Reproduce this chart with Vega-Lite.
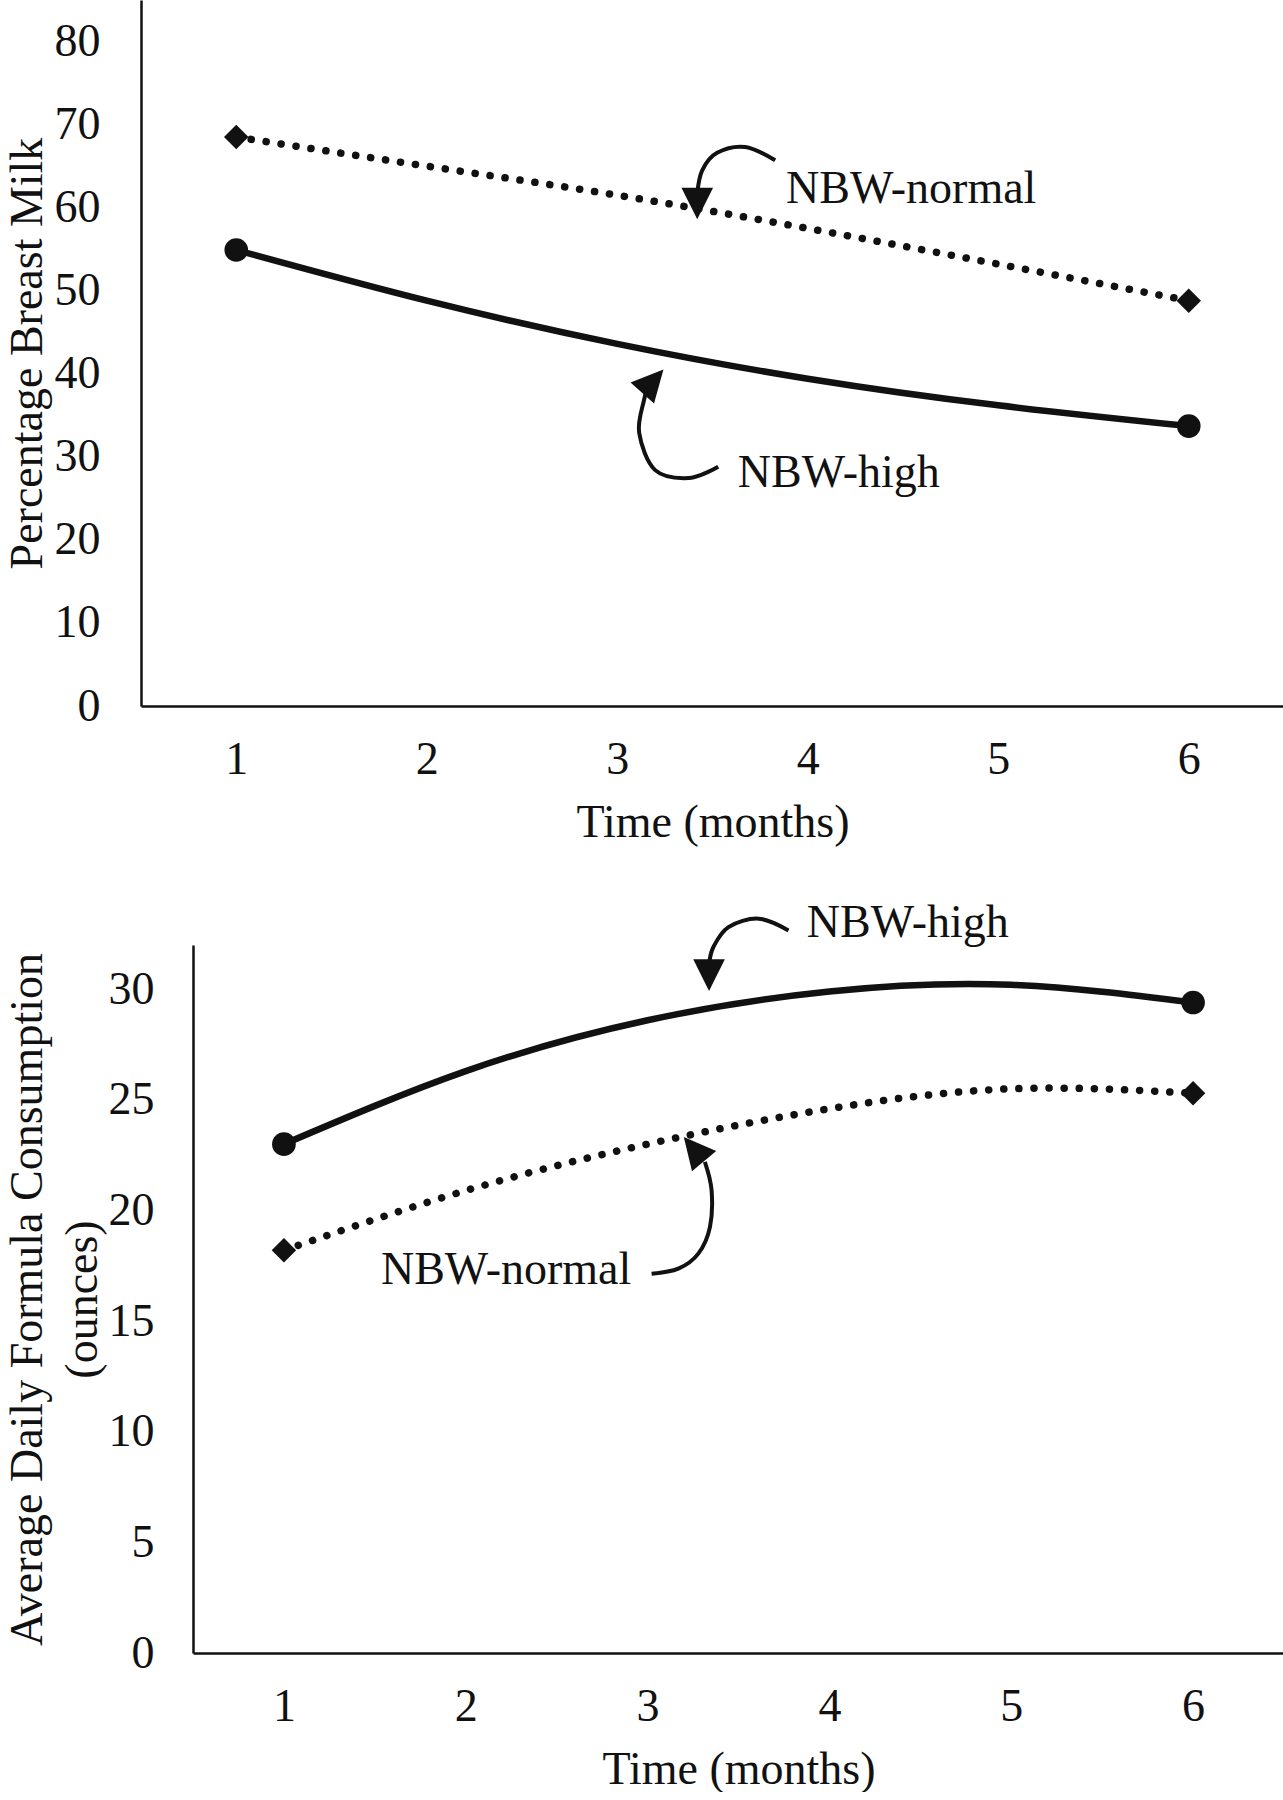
{
  "$schema": "https://vega.github.io/schema/vega-lite/v6.json",
  "padding": {"left": 4, "top": 0, "right": 0, "bottom": 0},
  "background": "white",
  "spacing": 54,
  "config": {
    "view": {"stroke": null},
    "font": "Liberation Serif",
    "axis": {
      "grid": false, "ticks": false, "domainColor": "#111", "domainWidth": 2.5,
      "labelFont": "Liberation Serif", "labelFontSize": 46, "labelColor": "#111",
      "titleFont": "Liberation Serif", "titleFontSize": 46, "titleFontWeight": "normal", "titleColor": "#111",
      "labelFlush": false, "labelOverlap": false
    }
  },
  "datasets": {
    "bm": [
      {"series": "NBW-high", "month": 1, "value": 54.9},
      {"series": "NBW-high", "month": 2, "value": 48.8},
      {"series": "NBW-high", "month": 3, "value": 43.6},
      {"series": "NBW-high", "month": 4, "value": 39.4},
      {"series": "NBW-high", "month": 5, "value": 36.2},
      {"series": "NBW-high", "month": 6, "value": 33.7},
      {"series": "NBW-normal", "month": 1, "value": 68.5},
      {"series": "NBW-normal", "month": 2, "value": 65.0},
      {"series": "NBW-normal", "month": 3, "value": 61.5},
      {"series": "NBW-normal", "month": 4, "value": 57.5},
      {"series": "NBW-normal", "month": 5, "value": 53.2},
      {"series": "NBW-normal", "month": 6, "value": 48.8}
    ],
    "fc": [
      {"series": "NBW-high", "month": 1, "value": 23.0},
      {"series": "NBW-high", "month": 2, "value": 26.3},
      {"series": "NBW-high", "month": 3, "value": 28.6},
      {"series": "NBW-high", "month": 4, "value": 29.9},
      {"series": "NBW-high", "month": 5, "value": 30.2},
      {"series": "NBW-high", "month": 6, "value": 29.4},
      {"series": "NBW-normal", "month": 1, "value": 18.2},
      {"series": "NBW-normal", "month": 2, "value": 20.9},
      {"series": "NBW-normal", "month": 3, "value": 23.0},
      {"series": "NBW-normal", "month": 4, "value": 24.6},
      {"series": "NBW-normal", "month": 5, "value": 25.5},
      {"series": "NBW-normal", "month": 6, "value": 25.3}
    ],
    "arrows": [
      {"panel": "top", "arrow": "normal", "step": 1, "month": 3.829, "value": 65.7},
      {"panel": "top", "arrow": "normal", "step": 2, "month": 3.672, "value": 67.3},
      {"panel": "top", "arrow": "normal", "step": 3, "month": 3.524, "value": 66.6},
      {"panel": "top", "arrow": "normal", "step": 4, "month": 3.446, "value": 64.5},
      {"panel": "top", "arrow": "normal", "step": 5, "month": 3.42, "value": 61.7},
      {"panel": "top", "arrow": "high", "step": 1, "month": 3.53, "value": 28.8},
      {"panel": "top", "arrow": "high", "step": 2, "month": 3.378, "value": 27.45},
      {"panel": "top", "arrow": "high", "step": 3, "month": 3.199, "value": 28.4},
      {"panel": "top", "arrow": "high", "step": 4, "month": 3.115, "value": 32.9},
      {"panel": "top", "arrow": "high", "step": 5, "month": 3.141, "value": 36.9},
      {"panel": "top", "arrow": "high", "step": 6, "month": 3.16, "value": 38.4},
      {"panel": "bottom", "arrow": "high", "step": 1, "month": 3.775, "value": 32.66},
      {"panel": "bottom", "arrow": "high", "step": 2, "month": 3.61, "value": 33.19},
      {"panel": "bottom", "arrow": "high", "step": 3, "month": 3.445, "value": 32.81},
      {"panel": "bottom", "arrow": "high", "step": 4, "month": 3.362, "value": 31.91},
      {"panel": "bottom", "arrow": "high", "step": 5, "month": 3.338, "value": 31.1},
      {"panel": "bottom", "arrow": "normal", "step": 1, "month": 3.022, "value": 17.14},
      {"panel": "bottom", "arrow": "normal", "step": 2, "month": 3.169, "value": 17.37},
      {"panel": "bottom", "arrow": "normal", "step": 3, "month": 3.279, "value": 18.05},
      {"panel": "bottom", "arrow": "normal", "step": 4, "month": 3.343, "value": 19.25},
      {"panel": "bottom", "arrow": "normal", "step": 5, "month": 3.352, "value": 20.91},
      {"panel": "bottom", "arrow": "normal", "step": 6, "month": 3.315, "value": 22.2}
    ],
    "heads": [
      {"panel": "top", "arrow": "normal", "month": 3.42, "value": 60.5},
      {"panel": "top", "arrow": "high", "month": 3.187, "value": 39.1},
      {"panel": "bottom", "arrow": "high", "month": 3.338, "value": 30.64},
      {"panel": "bottom", "arrow": "normal", "month": 3.255, "value": 22.78}
    ],
    "labels": [
      {"panel": "top", "label": "NBW-normal", "month": 4.543, "value": 62.2},
      {"panel": "top", "label": "NBW-high", "month": 4.163, "value": 28.1},
      {"panel": "bottom", "label": "NBW-high", "month": 4.431, "value": 33.0},
      {"panel": "bottom", "label": "NBW-normal", "month": 2.222, "value": 17.3}
    ]
  },
  "vconcat": [
    {
      "width": 1143,
      "height": 706,
      "encoding": {
        "x": {"field": "month", "type": "quantitative",
          "scale": {"domain": [0.5, 6.5], "nice": false, "zero": false},
          "axis": {"values": [1, 2, 3, 4, 5, 6], "format": "d", "title": "Time (months)", "labelPadding": 31, "titlePadding": 18}},
        "y": {"field": "value", "type": "quantitative",
          "scale": {"domain": [0, 85], "nice": false},
          "axis": {"values": [0, 10, 20, 30, 40, 50, 60, 70, 80], "title": "Percentage Breast Milk", "labelPadding": 41, "titlePadding": 3}}
      },
      "layer": [
        {"data": {"name": "bm"}, "transform": [{"filter": "datum.series == 'NBW-high'"}],
          "mark": {"type": "line", "interpolate": "natural", "color": "#111", "strokeWidth": 6.5}},
        {"data": {"name": "bm"}, "transform": [{"filter": "datum.series == 'NBW-normal'"}],
          "mark": {"type": "line", "interpolate": "natural", "color": "#111", "strokeWidth": 7.5, "strokeDash": [0.1, 15], "strokeCap": "round"}},
        {"data": {"name": "bm"}, "transform": [{"filter": "datum.series == 'NBW-high' && (datum.month == 1 || datum.month == 6)"}],
          "mark": {"type": "point", "shape": "circle", "filled": true, "size": 560, "color": "#111", "opacity": 1}},
        {"data": {"name": "bm"}, "transform": [{"filter": "datum.series == 'NBW-normal' && (datum.month == 1 || datum.month == 6)"}],
          "mark": {"type": "point", "shape": "diamond", "filled": true, "size": 600, "color": "#111", "opacity": 1}},
        {"data": {"name": "arrows"}, "transform": [{"filter": "datum.panel == 'top'"}],
          "mark": {"type": "line", "interpolate": "cardinal", "color": "#111", "strokeWidth": 4},
          "encoding": {"detail": {"field": "arrow"}, "order": {"field": "step", "type": "quantitative"}}},
        {"data": {"name": "heads"}, "transform": [{"filter": "datum.panel == 'top' && datum.arrow == 'normal'"}],
          "mark": {"type": "point", "shape": "M-1,-1L1,-1L0,1Z", "filled": true, "size": 1000, "color": "#111", "opacity": 1, "angle": 0}},
        {"data": {"name": "heads"}, "transform": [{"filter": "datum.panel == 'top' && datum.arrow == 'high'"}],
          "mark": {"type": "point", "shape": "M-1,-1L1,-1L0,1Z", "filled": true, "size": 1000, "color": "#111", "opacity": 1, "angle": 222}},
        {"data": {"name": "labels"}, "transform": [{"filter": "datum.panel == 'top'"}],
          "mark": {"type": "text", "font": "Liberation Serif", "fontSize": 46, "color": "#111", "align": "center", "baseline": "middle"},
          "encoding": {"text": {"field": "label"}}}
      ]
    },
    {
      "width": 1143,
      "height": 708,
      "encoding": {
        "x": {"field": "month", "type": "quantitative",
          "scale": {"domain": [0.5, 6.5], "range": [52, 1143], "nice": false, "zero": false},
          "axis": {"values": [1, 2, 3, 4, 5, 6], "format": "d", "title": "Time (months)", "labelPadding": 31, "titlePadding": 18}},
        "y": {"field": "value", "type": "quantitative",
          "scale": {"domain": [0, 32], "nice": false},
          "axis": {"values": [0, 5, 10, 15, 20, 25, 30], "title": ["Average Daily Formula Consumption", "(ounces)"], "titleLineHeight": 55, "labelPadding": 39, "titlePadding": 2, "offset": -52}}
      },
      "layer": [
        {"data": {"name": "fc"}, "transform": [{"filter": "datum.series == 'NBW-high'"}],
          "mark": {"type": "line", "interpolate": "natural", "color": "#111", "strokeWidth": 6.5}},
        {"data": {"name": "fc"}, "transform": [{"filter": "datum.series == 'NBW-normal'"}],
          "mark": {"type": "line", "interpolate": "natural", "color": "#111", "strokeWidth": 7.5, "strokeDash": [0.1, 15], "strokeCap": "round"}},
        {"data": {"name": "fc"}, "transform": [{"filter": "datum.series == 'NBW-high' && (datum.month == 1 || datum.month == 6)"}],
          "mark": {"type": "point", "shape": "circle", "filled": true, "size": 560, "color": "#111", "opacity": 1}},
        {"data": {"name": "fc"}, "transform": [{"filter": "datum.series == 'NBW-normal' && (datum.month == 1 || datum.month == 6)"}],
          "mark": {"type": "point", "shape": "diamond", "filled": true, "size": 600, "color": "#111", "opacity": 1}},
        {"data": {"name": "arrows"}, "transform": [{"filter": "datum.panel == 'bottom'"}],
          "mark": {"type": "line", "interpolate": "cardinal", "color": "#111", "strokeWidth": 4},
          "encoding": {"detail": {"field": "arrow"}, "order": {"field": "step", "type": "quantitative"}}},
        {"data": {"name": "heads"}, "transform": [{"filter": "datum.panel == 'bottom' && datum.arrow == 'high'"}],
          "mark": {"type": "point", "shape": "M-1,-1L1,-1L0,1Z", "filled": true, "size": 1000, "color": "#111", "opacity": 1, "angle": 0}},
        {"data": {"name": "heads"}, "transform": [{"filter": "datum.panel == 'bottom' && datum.arrow == 'normal'"}],
          "mark": {"type": "point", "shape": "M-1,-1L1,-1L0,1Z", "filled": true, "size": 1000, "color": "#111", "opacity": 1, "angle": 140}},
        {"data": {"name": "labels"}, "transform": [{"filter": "datum.panel == 'bottom'"}],
          "mark": {"type": "text", "font": "Liberation Serif", "fontSize": 46, "color": "#111", "align": "center", "baseline": "middle"},
          "encoding": {"text": {"field": "label"}}}
      ]
    }
  ]
}
